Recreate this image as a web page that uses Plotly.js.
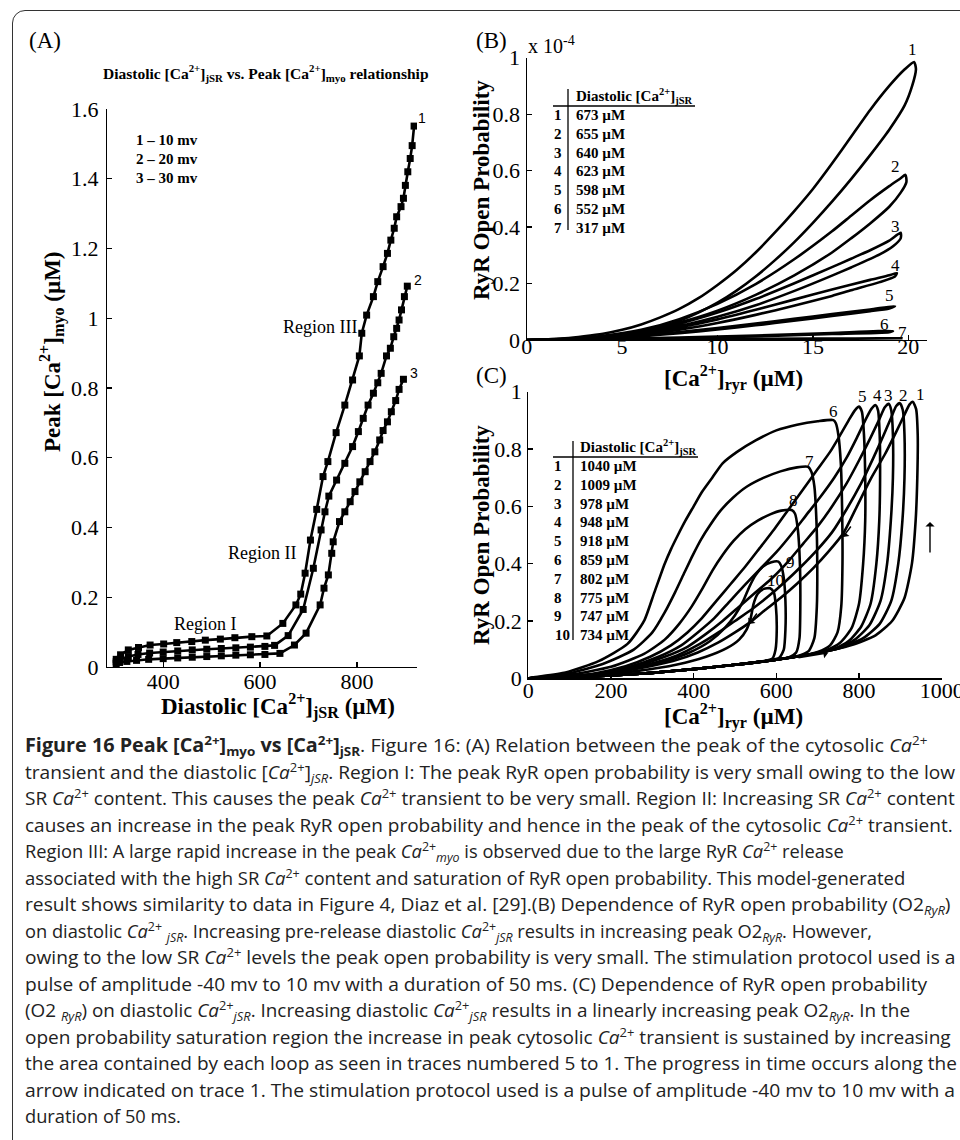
<!DOCTYPE html>
<html><head><meta charset="utf-8">
<script src="https://cdn.plot.ly/plotly-3.0.1.min.js"></script>
<style>
html,body{margin:0;padding:0;background:#fff;}
body{width:960px;height:1140px;overflow:hidden;position:relative;}
#frame{position:absolute;left:12px;top:10px;width:1100px;height:1300px;border:1.4px solid #333;border-radius:13px;}
#plot{position:absolute;left:0;top:0;width:960px;height:740px;}
.cl{position:absolute;left:25px;white-space:nowrap;font-family:"Open Sans",sans-serif;font-size:19px;line-height:22px;color:#222;transform-origin:0 50%;}
.cl sup{font-size:0.68em;vertical-align:0.55em;line-height:0;}
.cl sub{font-size:0.68em;vertical-align:-0.3em;line-height:0;}
</style></head>
<body>
<div id="frame"></div>
<div id="plot"></div>
<div id="cap"></div>
<script>
// ---------- Panel A data ----------
const aX1 = [303,312,328,349,373,401,428,459,487,518,548,583,614,647,674,684,693,704,717,730,740,757,775,791,805,810,820,834,843,854,863,870,877,882,891,896,900,905,910,914,918];
const aY1 = [0.022,0.035,0.049,0.056,0.063,0.066,0.070,0.073,0.077,0.080,0.084,0.087,0.089,0.125,0.178,0.209,0.269,0.364,0.452,0.546,0.589,0.672,0.751,0.823,0.892,0.957,1.009,1.062,1.105,1.148,1.186,1.224,1.258,1.291,1.320,1.344,1.381,1.420,1.458,1.495,1.551];
const aX2 = [303,311,328,348,372,400,430,460,490,520,550,580,610,630,658,689,710,726,734,742,758,775,791,803,813,823,834,843,850,861,869,876,882,887,892,898,904];
const aY2 = [0.015,0.022,0.030,0.036,0.040,0.043,0.046,0.049,0.051,0.053,0.055,0.057,0.059,0.062,0.090,0.165,0.283,0.393,0.445,0.490,0.536,0.584,0.632,0.675,0.713,0.751,0.785,0.815,0.842,0.892,0.914,0.947,0.971,0.995,1.024,1.062,1.092];
const aX3 = [303,310,325,345,370,400,430,460,490,520,550,580,610,641,671,695,724,732,741,748,751,764,775,786,796,806,817,827,837,847,854,863,871,880,887,896];
const aY3 = [0.010,0.013,0.016,0.019,0.022,0.024,0.026,0.028,0.030,0.032,0.034,0.035,0.036,0.039,0.063,0.097,0.178,0.226,0.264,0.326,0.359,0.417,0.445,0.474,0.503,0.531,0.560,0.589,0.617,0.651,0.678,0.703,0.732,0.764,0.796,0.825];
const aLegend = ["1 \u2013 10 mv","2 \u2013 20 mv","3 \u2013 30 mv"];
const aTickY = [0,0.2,0.4,0.6,0.8,1,1.2,1.4,1.6];
const aTickX = [400,600,800];

// ---------- Panel B data (y in units of 1e-4) ----------
const bLoop1 = [[0,0],[1,0.002],[2,0.006],[3,0.013],[4,0.022],[5,0.036],[6,0.055],[7,0.08],[8,0.11],[9,0.148],[10,0.195],[11,0.248],[12,0.31],[13,0.38],[14,0.455],[15,0.535],[16,0.625],[17,0.72],[18,0.815],[19,0.9],[19.8,0.958],[20.3,0.985],[20.4,0.96],[20.2,0.9],[19.8,0.83],[19,0.745],[18,0.655],[17,0.57],[16,0.49],[15,0.415],[14,0.345],[13,0.282],[12,0.225],[11,0.175],[10,0.132],[9,0.097],[8,0.068],[7,0.046],[6,0.029],[5,0.017],[4,0.009],[3,0.004],[2,0.0015],[1,0.0004],[0,0]];
const bLoop2 = [[0,0],[2,0.004],[4,0.015],[6,0.036],[8,0.074],[10,0.128],[12,0.198],[14,0.285],[16,0.385],[17,0.44],[18,0.495],[19,0.545],[19.6,0.573],[19.85,0.585],[19.9,0.56],[19.6,0.522],[19,0.472],[18,0.413],[17,0.36],[16,0.31],[14,0.228],[12,0.16],[10,0.104],[8,0.062],[6,0.031],[4,0.012],[2,0.003],[0,0]];
const bLoop3 = [[0,0],[2,0.003],[4,0.012],[6,0.03],[8,0.058],[10,0.097],[12,0.145],[14,0.2],[16,0.258],[17,0.288],[18,0.318],[19,0.352],[19.6,0.38],[19.6,0.36],[19.2,0.332],[18.5,0.303],[17,0.257],[16,0.228],[14,0.173],[12,0.123],[10,0.082],[8,0.049],[6,0.024],[4,0.009],[2,0.002],[0,0]];
const bLoop4 = [[0,0],[2,0.003],[4,0.01],[6,0.024],[8,0.045],[10,0.073],[12,0.107],[14,0.143],[16,0.179],[18,0.213],[19,0.229],[19.4,0.237],[19.3,0.225],[18.5,0.205],[17,0.176],[16,0.156],[14,0.121],[12,0.089],[10,0.06],[8,0.036],[6,0.018],[4,0.007],[2,0.0015],[0,0]];
const bLoop5 = [[0,0],[2,0.002],[4,0.007],[6,0.016],[8,0.028],[10,0.042],[12,0.058],[14,0.075],[16,0.092],[18,0.108],[19.3,0.12],[19,0.112],[18,0.102],[16,0.085],[14,0.068],[12,0.052],[10,0.037],[8,0.024],[6,0.013],[4,0.005],[2,0.001],[0,0]];
const bLoop6 = [[0,0],[4,0.003],[8,0.009],[12,0.016],[16,0.025],[19.2,0.032],[19,0.028],[16,0.021],[12,0.013],[8,0.007],[4,0.002],[0,0]];
const bLoop7 = [[0,0],[5,0.002],[10,0.004],[15,0.005],[19.7,0.006],[15,0.004],[10,0.003],[5,0.001],[0,0]];
const bRowNum = ["1","2","3","4","5","6","7"];
const bRowVal = ["673 \u00b5M","655 \u00b5M","640 \u00b5M","623 \u00b5M","598 \u00b5M","552 \u00b5M","317 \u00b5M"];
const bTickY = [0,0.2,0.4,0.6,0.8,1];
const bTickX = [0,5,10,15,20];

// ---------- Panel C data ----------
const cLoop1 = [[0,0],[100,0.004],[200,0.01],[300,0.019],[400,0.032],[500,0.047],[600,0.065],[700,0.088],[780,0.115],[840,0.15],[880,0.2],[910,0.28],[928,0.4],[937,0.55],[941,0.7],[942,0.85],[938,0.94],[930,0.965],[922,0.955],[910,0.92],[890,0.86],[862,0.78],[830,0.7],[795,0.6],[762,0.506],[725,0.44],[690,0.385],[650,0.33],[610,0.28],[570,0.235],[536,0.195],[500,0.16],[460,0.125],[410,0.09],[350,0.06],[270,0.035],[180,0.015],[90,0.005],[0,0]];
const cLoop2 = [[0,0],[100,0.004],[200,0.01],[300,0.019],[400,0.032],[500,0.047],[600,0.065],[700,0.088],[760,0.108],[810,0.14],[850,0.19],[878,0.27],[895,0.4],[905,0.55],[910,0.7],[910,0.85],[906,0.935],[899,0.96],[890,0.95],[878,0.91],[860,0.85],[835,0.77],[805,0.68],[770,0.59],[735,0.51],[700,0.45],[660,0.39],[620,0.335],[580,0.285],[540,0.24],[500,0.2],[460,0.16],[415,0.12],[360,0.08],[280,0.045],[180,0.018],[90,0.005],[0,0]];
const cLoop3 = [[0,0],[100,0.004],[200,0.01],[300,0.019],[400,0.032],[500,0.047],[600,0.065],[700,0.088],[750,0.105],[790,0.135],[825,0.185],[852,0.27],[868,0.4],[877,0.55],[882,0.7],[882,0.85],[878,0.935],[872,0.958],[862,0.945],[848,0.9],[828,0.84],[800,0.76],[770,0.68],[735,0.6],[700,0.53],[665,0.47],[630,0.41],[590,0.35],[550,0.3],[510,0.25],[470,0.2],[430,0.155],[385,0.11],[330,0.075],[260,0.042],[170,0.016],[90,0.005],[0,0]];
const cLoop4 = [[0,0],[100,0.004],[200,0.01],[300,0.019],[400,0.032],[500,0.047],[600,0.065],[700,0.088],[740,0.103],[775,0.13],[805,0.18],[828,0.26],[842,0.4],[849,0.55],[851,0.7],[850,0.85],[846,0.935],[840,0.953],[830,0.94],[815,0.9],[795,0.84],[770,0.77],[740,0.7],[705,0.63],[670,0.565],[635,0.5],[600,0.44],[560,0.38],[520,0.32],[485,0.265],[450,0.21],[410,0.16],[370,0.115],[315,0.075],[250,0.042],[170,0.017],[90,0.005],[0,0]];
const cLoop5 = [[0,0],[100,0.004],[200,0.01],[300,0.019],[400,0.032],[500,0.047],[600,0.065],[680,0.083],[720,0.098],[755,0.125],[782,0.175],[800,0.26],[810,0.4],[815,0.55],[815,0.7],[812,0.85],[807,0.93],[800,0.948],[790,0.935],[775,0.9],[755,0.85],[730,0.79],[700,0.73],[665,0.66],[630,0.59],[595,0.52],[560,0.455],[525,0.39],[490,0.33],[455,0.27],[420,0.21],[385,0.16],[345,0.115],[295,0.075],[235,0.042],[160,0.017],[80,0.005],[0,0]];
const cLoop6 = [[0,0],[100,0.004],[200,0.01],[300,0.019],[400,0.032],[500,0.047],[600,0.065],[660,0.078],[700,0.092],[730,0.115],[748,0.16],[757,0.25],[760,0.4],[759,0.6],[756,0.75],[750,0.85],[744,0.89],[738,0.901],[700,0.897],[650,0.885],[600,0.865],[550,0.83],[505,0.79],[470,0.75],[445,0.7],[420,0.65],[400,0.6],[380,0.55],[362,0.5],[345,0.45],[330,0.4],[305,0.3],[280,0.2],[240,0.12],[170,0.06],[90,0.02],[0,0]];
const cLoop7 = [[0,0],[100,0.004],[200,0.01],[300,0.019],[400,0.032],[500,0.047],[600,0.065],[650,0.077],[678,0.095],[692,0.14],[698,0.25],[699,0.4],[697,0.55],[692,0.67],[685,0.72],[677,0.738],[650,0.736],[610,0.722],[570,0.7],[530,0.67],[495,0.63],[465,0.585],[440,0.535],[418,0.485],[398,0.43],[378,0.37],[355,0.3],[330,0.23],[300,0.16],[255,0.1],[180,0.05],[90,0.015],[0,0]];
const cLoop8 = [[0,0],[100,0.004],[200,0.01],[300,0.019],[400,0.032],[500,0.047],[600,0.065],[630,0.073],[648,0.09],[656,0.14],[658,0.25],[657,0.4],[652,0.52],[645,0.575],[637,0.587],[612,0.585],[585,0.572],[555,0.55],[525,0.52],[497,0.48],[470,0.43],[445,0.375],[420,0.31],[395,0.25],[365,0.19],[330,0.135],[280,0.085],[200,0.04],[100,0.012],[0,0]];
const cLoop9 = [[0,0],[100,0.004],[200,0.01],[300,0.019],[400,0.032],[500,0.047],[580,0.062],[607,0.072],[618,0.1],[622,0.17],[622,0.27],[618,0.35],[612,0.392],[605,0.407],[588,0.405],[568,0.39],[550,0.36],[535,0.32],[520,0.27],[500,0.22],[475,0.175],[440,0.13],[390,0.09],[320,0.055],[220,0.025],[110,0.008],[0,0]];
const cLoop10 = [[0,0],[100,0.004],[200,0.01],[300,0.019],[400,0.032],[500,0.047],[570,0.06],[590,0.068],[598,0.1],[601,0.17],[599,0.25],[594,0.3],[585,0.314],[570,0.312],[555,0.295],[545,0.26],[538,0.21],[528,0.17],[510,0.135],[480,0.105],[430,0.075],[360,0.048],[260,0.025],[130,0.007],[0,0]];
const cRowNum = ["1","2","3","4","5","6","7","8","9","10"];
const cRowVal = ["1040 \u00b5M","1009 \u00b5M","978 \u00b5M","948 \u00b5M","918 \u00b5M","859 \u00b5M","802 \u00b5M","775 \u00b5M","747 \u00b5M","734 \u00b5M"];
const cTickY = [0,0.2,0.4,0.6,0.8,1];
const cTickX = [0,200,400,600,800,1000];

// ---------- helpers ----------
const W = 960, H = 740;
const SERIF = "Liberation Serif, Times New Roman, serif";
const px = v => v / W, py = v => 1 - v / H;
const annotations = [];
function T(text, x, y, o) {
  o = o || {};
  annotations.push({
    text: text, xref: 'paper', yref: 'paper', x: px(x), y: py(y),
    xanchor: o.xa || 'center', yanchor: o.ya || 'middle', showarrow: false,
    textangle: o.angle || 0,
    font: {family: o.family || SERIF, size: o.size || 16, color: '#000'}
  });
}
function ARR(hx, hy, dx, dy) {
  annotations.push({text: '', xref: 'paper', yref: 'paper', x: px(hx), y: py(hy),
    ax: dx, ay: dy, showarrow: true, arrowhead: 1, arrowsize: 1.1, arrowwidth: 1.4, arrowcolor: '#000'});
}
const shapes = [];
function LINE(x0, y0, x1, y1) {
  shapes.push({type: 'line', xref: 'paper', yref: 'paper', x0: px(x0), y0: py(y0), x1: px(x1), y1: py(y1),
    line: {color: '#000', width: 1.3}});
}
const unzip = pts => ({x: pts.map(p => p[0]), y: pts.map(p => p[1])});

const traces = [];
[[aX1, aY1], [aX2, aY2], [aX3, aY3]].forEach(([x, y]) => traces.push({
  x: x, y: y, xaxis: 'x', yaxis: 'y', mode: 'lines+markers', type: 'scatter',
  line: {color: '#000', width: 2.6}, marker: {symbol: 'square', size: 7, color: '#000'}, hoverinfo: 'skip'
}));
[bLoop1, bLoop2, bLoop3, bLoop4, bLoop5, bLoop6, bLoop7].forEach(L => {
  const d = unzip(L);
  traces.push({x: d.x, y: d.y, xaxis: 'x2', yaxis: 'y2', mode: 'lines', type: 'scatter',
    line: {color: '#000', width: 2.6, shape: 'spline', smoothing: 0.6}, hoverinfo: 'skip'});
});
[cLoop1, cLoop2, cLoop3, cLoop4, cLoop5, cLoop6, cLoop7, cLoop8, cLoop9, cLoop10].forEach(L => {
  const d = unzip(L);
  traces.push({x: d.x, y: d.y, xaxis: 'x3', yaxis: 'y3', mode: 'lines', type: 'scatter',
    line: {color: '#000', width: 2.6, shape: 'spline', smoothing: 0.6}, hoverinfo: 'skip'});
});

function axis(o) {
  return Object.assign({
    showgrid: false, zeroline: false, showline: true, linecolor: '#000', linewidth: 1.2,
    ticks: 'inside', ticklen: 5, tickwidth: 1.2, tickcolor: '#000', mirror: false, fixedrange: true,
    tickfont: {family: SERIF, size: 22, color: '#000'}, tickmode: 'array', ticklabeloverflow: 'allow'
  }, o);
}

// ---------- Panel A annotations ----------
T('(A)', 45, 40, {size: 23});
T('<b>Diastolic [Ca<sup>2+</sup>]<sub>jSR</sub> vs. Peak [Ca<sup>2+</sup>]<sub>myo</sub> relationship</b>', 266, 73, {size: 15.5});
aLegend.forEach((t, i) => T('<b>' + t + '</b>', 134, 140 + i * 19, {size: 15, xa: 'left'}));
T('Region III', 320, 327, {size: 18});
T('Region II', 262, 553, {size: 18});
T('Region I', 205, 624, {size: 18});
T('1', 422, 118, {size: 14, family: 'Liberation Sans, Arial, sans-serif'});
T('2', 418, 280, {size: 14, family: 'Liberation Sans, Arial, sans-serif'});
T('3', 414, 373, {size: 14, family: 'Liberation Sans, Arial, sans-serif'});
T('<b>Peak [Ca<sup>2+</sup>]<sub>myo</sub> (\u00b5M)</b>', 52, 352, {size: 23, angle: -90});
T('<b>Diastolic [Ca<sup>2+</sup>]<sub>jSR</sub> (\u00b5M)</b>', 278, 706, {size: 23});

// ---------- Panel B annotations ----------
T('(B)', 491, 40, {size: 23});
T('x 10<sup>-4</sup>', 526, 45, {size: 20, xa: 'left'});
T('<b>RyR Open Probability</b>', 481, 190, {size: 23, angle: -90});
T('<b>[Ca<sup>2+</sup>]<sub>ryr</sub> (\u00b5M)</b>', 733, 378, {size: 23});
T('<b>Diastolic [Ca<sup>2+</sup>]<sub>jSR</sub></b>', 574, 96, {size: 15, xa: 'left'});
bRowNum.forEach((n, i) => {
  T('<b>' + n + '</b>', 558, 115 + i * 18.8, {size: 15});
  T('<b>' + bRowVal[i] + '</b>', 574, 115 + i * 18.8, {size: 15, xa: 'left'});
});
LINE(568, 89, 568, 230);
LINE(553, 106, 695, 106);
[['1', 912, 50], ['2', 895, 166], ['3', 895, 227], ['4', 895, 265], ['5', 889, 295], ['6', 884, 324], ['7', 902, 333]]
  .forEach(([t, x, y]) => T(t, x, y, {size: 17}));

// ---------- Panel C annotations ----------
T('(C)', 492, 375, {size: 23});
T('<b>RyR Open Probability</b>', 481, 535, {size: 23, angle: -90});
T('<b>[Ca<sup>2+</sup>]<sub>ryr</sub> (\u00b5M)</b>', 733, 716, {size: 23});
T('<b>Diastolic [Ca<sup>2+</sup>]<sub>jSR</sub></b>', 578, 447, {size: 15, xa: 'left'});
cRowNum.forEach((n, i) => {
  T('<b>' + n + '</b>', n.length > 1 ? 562 : 558, 466 + i * 18.8, {size: 15});
  T('<b>' + cRowVal[i] + '</b>', 578, 466 + i * 18.8, {size: 15, xa: 'left'});
});
LINE(573, 441, 573, 640);
LINE(553, 457, 698, 457);
[['1', 920, 394], ['2', 903, 395], ['3', 888, 395], ['4', 877, 395], ['5', 862, 397], ['6', 833, 411],
 ['7', 809, 462], ['8', 793, 500], ['9', 790, 562], ['10', 775, 580]]
  .forEach(([t, x, y]) => T(t, x, y, {size: 17}));
ARR(930, 522, 0, 32);
ARR(828, 653, -31, 5);
ARR(843, 537, 9, -12);
ARR(749, 624, 9, -12);

const layout = {
  width: W, height: H, margin: {l: 0, r: 0, t: 0, b: 0},
  paper_bgcolor: 'rgba(0,0,0,0)', plot_bgcolor: 'rgba(0,0,0,0)', showlegend: false,
  xaxis: axis({domain: [px(107), px(417)], range: [284, 924], tickvals: aTickX, anchor: 'y', ticklabelstandoff: -6}),
  yaxis: axis({domain: [py(667), py(109)], range: [0, 1.6], tickvals: aTickY, anchor: 'x', ticklabelstandoff: 3}),
  xaxis2: axis({domain: [px(526.7), px(927.4)], range: [0, 21], tickvals: bTickX, anchor: 'y2', ticklabelstandoff: -14}),
  yaxis2: axis({domain: [py(340), py(57.7)], range: [0, 1], tickvals: bTickY, anchor: 'x2', ticklabelstandoff: 1}),
  xaxis3: axis({domain: [px(528.3), px(942.1)], range: [0, 1001], tickvals: cTickX, anchor: 'y3', ticklabelstandoff: -8}),
  yaxis3: axis({domain: [py(678.3), py(391.7)], range: [0, 1], tickvals: cTickY, anchor: 'x3', ticklabelstandoff: 1}),
  annotations: annotations, shapes: shapes
};
Plotly.newPlot('plot', traces, layout, {displayModeBar: false, staticPlot: true});

// ---------- Caption ----------
const CA = '<i>Ca</i><sup>2+</sup>';
const capLines = [
  '<b>Figure 16 Peak [Ca<sup>2+</sup>]<sub>myo</sub> vs [Ca<sup>2+</sup>]<sub>jSR</sub></b>. Figure 16: (A) Relation between the peak of the cytosolic ' + CA,
  'transient and the diastolic [' + CA + ']<sub><i>jSR</i></sub>. Region I: The peak RyR open probability is very small owing to the low',
  'SR ' + CA + ' content. This causes the peak ' + CA + ' transient to be very small. Region II: Increasing SR ' + CA + ' content',
  'causes an increase in the peak RyR open probability and hence in the peak of the cytosolic ' + CA + ' transient.',
  'Region III: A large rapid increase in the peak ' + CA + '<sub><i>myo</i></sub> is observed due to the large RyR ' + CA + ' release',
  'associated with the high SR ' + CA + ' content and saturation of RyR open probability. This model-generated',
  'result shows similarity to data in Figure 4, Diaz et al. [29].(B) Dependence of RyR open probability (O2<sub><i>RyR</i></sub>)',
  'on diastolic ' + CA + ' <sub><i>jSR</i></sub>. Increasing pre-release diastolic ' + CA + '<sub><i>jSR</i></sub> results in increasing peak O2<sub><i>RyR</i></sub>. However,',
  'owing to the low SR ' + CA + ' levels the peak open probability is very small. The stimulation protocol used is a',
  'pulse of amplitude -40 mv to 10 mv with a duration of 50 ms. (C) Dependence of RyR open probability',
  '(O2 <sub><i>RyR</i></sub>) on diastolic ' + CA + '<sub><i>jSR</i></sub>. Increasing diastolic ' + CA + '<sub><i>jSR</i></sub> results in a linearly increasing peak O2<sub><i>RyR</i></sub>. In the',
  'open probability saturation region the increase in peak cytosolic ' + CA + ' transient is sustained by increasing',
  'the area contained by each loop as seen in traces numbered 5 to 1. The progress in time occurs along the',
  'arrow indicated on trace 1. The stimulation protocol used is a pulse of amplitude -40 mv to 10 mv with a',
  'duration of 50 ms.'
];
const capRight = [955,955,955,953,820,905,951,795,955,927,910,951,957,955,112];
const cap = document.getElementById('cap');
const spans = capLines.map((html, i) => {
  const d = document.createElement('div');
  d.className = 'cl';
  d.style.top = (745 + i * 26.5 - 11) + 'px';
  d.innerHTML = html;
  cap.appendChild(d);
  return d;
});
function fit() {
  const ratios = spans.map((s, i) => (capRight[i] - 25) / s.scrollWidth);
  const sorted = ratios.slice().sort((a, b) => a - b);
  const med = sorted[Math.floor(sorted.length / 2)];
  spans.forEach((s, i) => {
    const r = Math.min(Math.max(ratios[i], med * 0.96), med * 1.04);
    s.style.transform = 'scaleX(' + r.toFixed(4) + ')';
  });
}
if (document.fonts && document.fonts.ready) document.fonts.ready.then(fit);
fit();
</script>
</body></html>
